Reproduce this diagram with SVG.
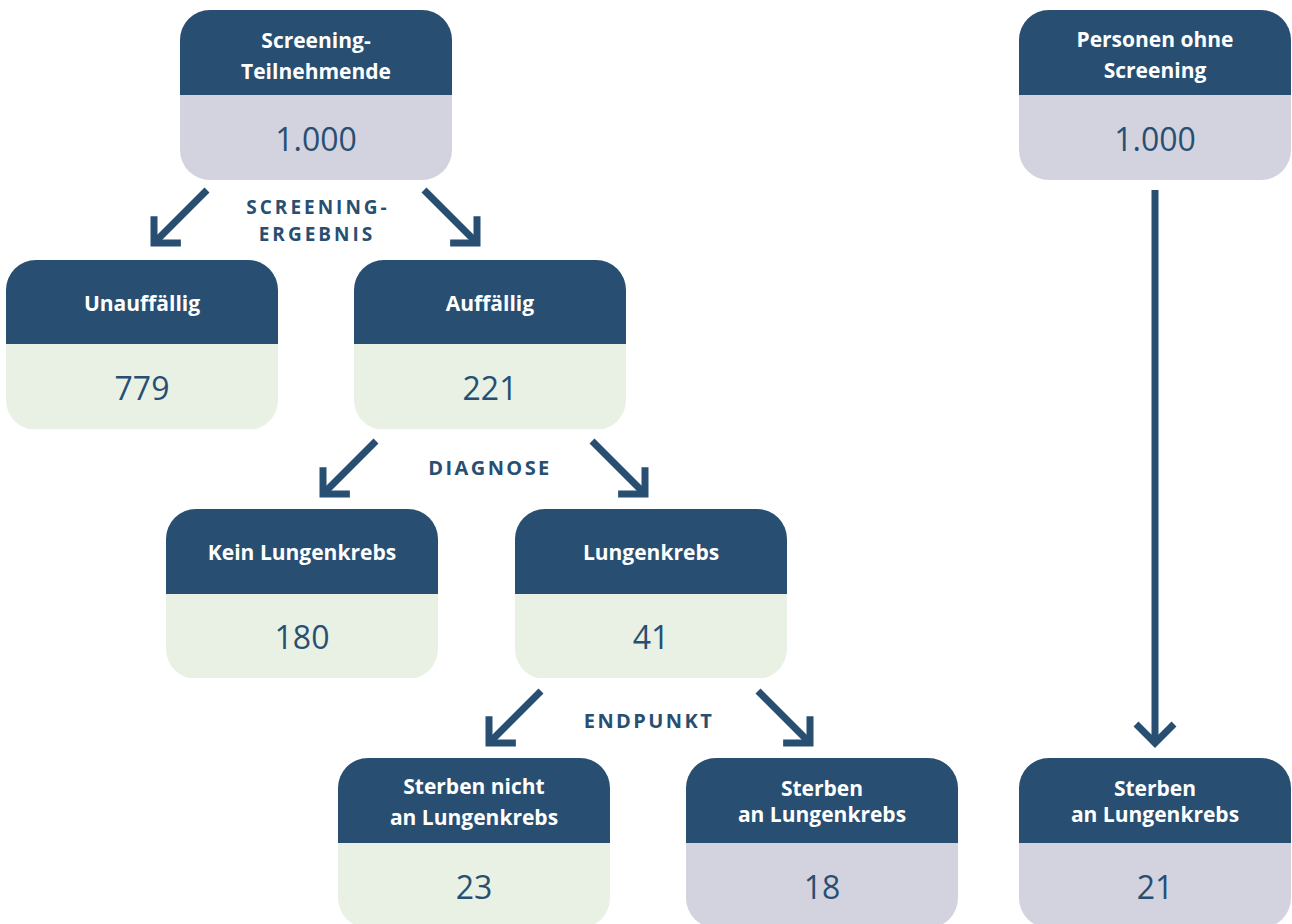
<svg xmlns="http://www.w3.org/2000/svg" width="1292" height="924" viewBox="0 0 1292 924">
<style>
.hd{fill:#284f72}
.gr{fill:#d3d3e0}
.gn{fill:#e9f1e5}
.ht{font-family:"Open Sans","Liberation Sans",sans-serif;font-weight:bold;font-size:21px;fill:#ffffff;text-anchor:middle}
.nt{font-family:"Open Sans","Liberation Sans",sans-serif;font-size:32px;fill:#284f72;text-anchor:middle}
.lb{font-family:"Open Sans","Liberation Sans",sans-serif;font-weight:bold;font-size:20px;fill:#284f72;text-anchor:middle;letter-spacing:2.4px}
.lb2{font-family:"Open Sans","Liberation Sans",sans-serif;font-weight:bold;font-size:19px;fill:#284f72;text-anchor:middle;letter-spacing:3px}
.ar{stroke:#284f72;stroke-width:7;fill:none}
</style>
<defs>
<clipPath id="c"><rect x="0" y="0" width="272" height="170" rx="30"/></clipPath>
<marker id="m" markerUnits="userSpaceOnUse" orient="auto" markerWidth="60" markerHeight="60" viewBox="-30 -30 60 60" refX="0" refY="0" overflow="visible">
<path d="M-19,-19 L0,0 L-19,19" stroke="#284f72" stroke-width="7" fill="none" stroke-linecap="butt" stroke-linejoin="miter"/>
</marker>
</defs>
<g id="connectors">
<line class="ar" x1="207" y1="190" x2="154" y2="243" marker-end="url(#m)"/>
<line class="ar" x1="424" y1="190" x2="477" y2="243" marker-end="url(#m)"/>
<line class="ar" x1="376" y1="441" x2="323" y2="494" marker-end="url(#m)"/>
<line class="ar" x1="592" y1="441" x2="645" y2="494" marker-end="url(#m)"/>
<line class="ar" x1="541" y1="691" x2="489" y2="743" marker-end="url(#m)"/>
<line class="ar" x1="758" y1="691" x2="810" y2="743" marker-end="url(#m)"/>
<line class="ar" x1="1155" y1="190" x2="1155" y2="743" marker-end="url(#m)"/>
<text class="lb2" x="318" y="214">SCREENING-</text>
<text class="lb2" x="317" y="241">ERGEBNIS</text>
<text class="lb" x="490" y="475">DIAGNOSE</text>
<text class="lb" x="649" y="728">ENDPUNKT</text>
</g>
<g id="n1" transform="translate(180,10)">
<g clip-path="url(#c)"><rect class="gr" width="272" height="170"/><rect class="hd" width="272" height="85"/></g>
<text class="ht" x="136" y="38">Screening-</text>
<text class="ht" x="136" y="69">Teilnehmende</text>
<text class="nt" x="136" y="141">1.000</text>
</g>
<g id="n2" transform="translate(1019,10)">
<g clip-path="url(#c)"><rect class="gr" width="272" height="170"/><rect class="hd" width="272" height="85"/></g>
<text class="ht" x="136" y="37">Personen ohne</text>
<text class="ht" x="136" y="68">Screening</text>
<text class="nt" x="136" y="141">1.000</text>
</g>
<g id="n3" transform="translate(6,260)">
<g clip-path="url(#c)"><rect class="gn" width="272" height="169"/><rect class="hd" width="272" height="84"/></g>
<text class="ht" x="136" y="51">Unauffällig</text>
<text class="nt" x="136" y="140">779</text>
</g>
<g id="n4" transform="translate(354,260)">
<g clip-path="url(#c)"><rect class="gn" width="272" height="169"/><rect class="hd" width="272" height="84"/></g>
<text class="ht" x="136" y="51">Auffällig</text>
<text class="nt" x="136" y="140">221</text>
</g>
<g id="n5" transform="translate(166,509)">
<g clip-path="url(#c)"><rect class="gn" width="272" height="169"/><rect class="hd" width="272" height="85"/></g>
<text class="ht" x="136" y="51">Kein Lungenkrebs</text>
<text class="nt" x="136" y="140">180</text>
</g>
<g id="n6" transform="translate(515,509)">
<g clip-path="url(#c)"><rect class="gn" width="272" height="169"/><rect class="hd" width="272" height="85"/></g>
<text class="ht" x="136" y="51">Lungenkrebs</text>
<text class="nt" x="136" y="140">41</text>
</g>
<g id="n7" transform="translate(338,758)">
<g clip-path="url(#c)"><rect class="gn" width="272" height="170"/><rect class="hd" width="272" height="85"/></g>
<text class="ht" x="136" y="36">Sterben nicht</text>
<text class="ht" x="136" y="67">an Lungenkrebs</text>
<text class="nt" x="136" y="141">23</text>
</g>
<g id="n8" transform="translate(686,758)">
<g clip-path="url(#c)"><rect class="gr" width="272" height="170"/><rect class="hd" width="272" height="85"/></g>
<text class="ht" x="136" y="38">Sterben</text>
<text class="ht" x="136" y="64">an Lungenkrebs</text>
<text class="nt" x="136" y="141">18</text>
</g>
<g id="n9" transform="translate(1019,758)">
<g clip-path="url(#c)"><rect class="gr" width="272" height="170"/><rect class="hd" width="272" height="85"/></g>
<text class="ht" x="136" y="38">Sterben</text>
<text class="ht" x="136" y="64">an Lungenkrebs</text>
<text class="nt" x="136" y="141">21</text>
</g>
</svg>
